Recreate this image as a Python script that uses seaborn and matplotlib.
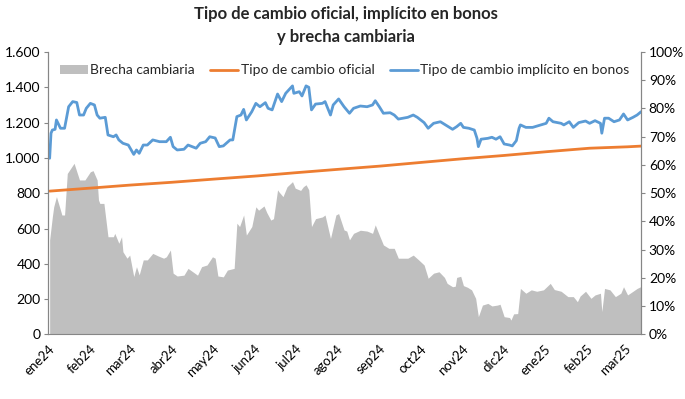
import pandas as pd
import matplotlib
matplotlib.use("Agg")
import matplotlib.pyplot as plt
from matplotlib.ticker import FuncFormatter, PercentFormatter
import seaborn as sns

# --- DATA ---
fechas_impl = [
    "2024-01-02", "2024-01-03", "2024-01-04", "2024-01-06", "2024-01-07", "2024-01-10", "2024-01-13",
    "2024-01-16", "2024-01-19", "2024-01-22", "2024-01-24", "2024-01-27", "2024-01-29", "2024-02-01",
    "2024-02-04", "2024-02-06", "2024-02-08", "2024-02-12", "2024-02-14", "2024-02-18", "2024-02-20",
    "2024-02-22", "2024-02-25", "2024-02-29", "2024-03-04", "2024-03-06", "2024-03-08", "2024-03-11",
    "2024-03-14", "2024-03-18", "2024-03-23", "2024-03-28", "2024-03-31", "2024-04-02", "2024-04-05",
    "2024-04-10", "2024-04-13", "2024-04-19", "2024-04-22", "2024-04-26", "2024-04-29", "2024-05-03",
    "2024-05-06", "2024-05-09", "2024-05-14", "2024-05-16", "2024-05-19", "2024-05-22", "2024-05-24",
    "2024-05-26", "2024-05-30", "2024-06-02", "2024-06-05", "2024-06-09", "2024-06-11", "2024-06-14",
    "2024-06-18", "2024-06-21", "2024-06-24", "2024-06-29", "2024-06-30", "2024-07-04", "2024-07-06",
    "2024-07-09", "2024-07-11", "2024-07-13", "2024-07-16", "2024-07-21", "2024-07-23", "2024-07-27",
    "2024-07-29", "2024-08-02", "2024-08-06", "2024-08-10", "2024-08-13", "2024-08-18", "2024-08-23",
    "2024-08-27", "2024-08-29", "2024-09-01", "2024-09-04", "2024-09-09", "2024-09-12", "2024-09-15",
    "2024-09-22", "2024-09-26", "2024-09-29", "2024-10-04", "2024-10-07", "2024-10-11", "2024-10-16",
    "2024-10-21", "2024-10-25", "2024-10-28", "2024-10-31", "2024-11-02", "2024-11-06", "2024-11-10",
    "2024-11-12", "2024-11-13", "2024-11-15", "2024-11-20", "2024-11-23", "2024-11-26", "2024-11-29",
    "2024-12-02", "2024-12-06", "2024-12-08", "2024-12-11", "2024-12-13", "2024-12-14", "2024-12-18",
    "2024-12-23", "2024-12-29", "2025-01-02", "2025-01-04", "2025-01-07", "2025-01-13", "2025-01-15",
    "2025-01-19", "2025-01-22", "2025-01-26", "2025-01-31", "2025-02-03", "2025-02-07", "2025-02-11",
    "2025-02-12", "2025-02-14", "2025-02-17", "2025-02-21", "2025-02-25", "2025-02-28", "2025-03-03",
    "2025-03-07", "2025-03-10", "2025-03-13",
]
tc_implicito = [
    998, 1140, 1158, 1162, 1215, 1168, 1168,
    1290, 1319, 1314, 1243, 1243, 1281, 1309,
    1300, 1243, 1225, 1230, 1130, 1120, 1130,
    1102, 1083, 1073, 1020, 1045, 1026, 1073,
    1073, 1102, 1092, 1092, 1117, 1064, 1045,
    1049, 1073, 1055, 1083, 1092, 1120, 1113,
    1064, 1068, 1102, 1102, 1234, 1243, 1275,
    1215, 1262, 1309, 1290, 1313, 1281, 1272,
    1362, 1319, 1366, 1408, 1366, 1375, 1351,
    1408, 1400, 1272, 1305, 1309, 1319, 1243,
    1300, 1334, 1290, 1253, 1281, 1294, 1290,
    1300, 1324, 1290, 1253, 1256, 1243, 1220,
    1230, 1243, 1230, 1200, 1168, 1196, 1205,
    1181, 1162, 1177, 1196, 1173, 1168, 1158,
    1111, 1064, 1106, 1111, 1117, 1106, 1120,
    1079, 1073, 1068, 1098, 1168, 1187, 1173,
    1173, 1187, 1196, 1225, 1205, 1196, 1187,
    1205, 1173, 1200, 1209, 1196, 1211, 1196,
    1140, 1225, 1225, 1205, 1215, 1249, 1215,
    1230, 1243, 1262,
]

fechas_oficial = [
    "2024-01-02", "2024-02-01", "2024-03-01", "2024-04-01", "2024-05-02", "2024-06-03",
    "2024-07-01", "2024-08-01", "2024-09-02", "2024-10-01", "2024-11-01", "2024-12-02",
    "2025-01-02", "2025-02-03", "2025-03-03", "2025-03-13",
]
tc_oficial = [812, 829, 846, 862, 880, 898, 916, 935, 954, 974, 995, 1014, 1035, 1055, 1063, 1067]

fechas_brecha = [
    "2024-01-02", "2024-01-04", "2024-01-05", "2024-01-07", "2024-01-10", "2024-01-11", "2024-01-13",
    "2024-01-15", "2024-01-20", "2024-01-24", "2024-01-28", "2024-02-01", "2024-02-03", "2024-02-06",
    "2024-02-07", "2024-02-08", "2024-02-11", "2024-02-14", "2024-02-18", "2024-02-19", "2024-02-22",
    "2024-02-24", "2024-02-25", "2024-02-28", "2024-03-01", "2024-03-04", "2024-03-06", "2024-03-08",
    "2024-03-11", "2024-03-14", "2024-03-18", "2024-03-22", "2024-03-26", "2024-03-28", "2024-03-31",
    "2024-04-02", "2024-04-05", "2024-04-10", "2024-04-13", "2024-04-20", "2024-04-23", "2024-04-27",
    "2024-05-01", "2024-05-03", "2024-05-05", "2024-05-09", "2024-05-12", "2024-05-17", "2024-05-19",
    "2024-05-21", "2024-05-24", "2024-05-26", "2024-05-30", "2024-06-02", "2024-06-04", "2024-06-08",
    "2024-06-10", "2024-06-13", "2024-06-15", "2024-06-18", "2024-06-19", "2024-06-22", "2024-06-25",
    "2024-06-29", "2024-07-01", "2024-07-05", "2024-07-07", "2024-07-09", "2024-07-11", "2024-07-13",
    "2024-07-16", "2024-07-21", "2024-07-23", "2024-07-27", "2024-07-31", "2024-08-02", "2024-08-06",
    "2024-08-08", "2024-08-10", "2024-08-13", "2024-08-18", "2024-08-23", "2024-08-27", "2024-08-29",
    "2024-09-01", "2024-09-04", "2024-09-08", "2024-09-12", "2024-09-15", "2024-09-22", "2024-09-26",
    "2024-09-30", "2024-10-04", "2024-10-07", "2024-10-11", "2024-10-15", "2024-10-19", "2024-10-21",
    "2024-10-25", "2024-10-27", "2024-10-28", "2024-10-31", "2024-11-02", "2024-11-05", "2024-11-08",
    "2024-11-11", "2024-11-13", "2024-11-16", "2024-11-20", "2024-11-23", "2024-11-27", "2024-11-29",
    "2024-12-02", "2024-12-06", "2024-12-07", "2024-12-09", "2024-12-12", "2024-12-14", "2024-12-18",
    "2024-12-22", "2024-12-26", "2024-12-31", "2025-01-05", "2025-01-08", "2025-01-13", "2025-01-18",
    "2025-01-22", "2025-01-25", "2025-01-27", "2025-01-31", "2025-02-04", "2025-02-07", "2025-02-11",
    "2025-02-12", "2025-02-14", "2025-02-18", "2025-02-22", "2025-02-26", "2025-02-28", "2025-03-03",
    "2025-03-07", "2025-03-10", "2025-03-13",
]
brecha = [
    33.5, 41.7, 45.2, 48.8, 44.0, 42.3, 42.3,
    57.0, 60.6, 54.7, 54.7, 57.6, 58.0, 54.7,
    47.6, 46.4, 46.4, 34.6, 34.6, 35.8, 32.3,
    34.6, 29.3, 27.0, 28.1, 20.5, 24.0, 21.1,
    26.4, 26.4, 28.7, 27.8, 27.0, 27.5, 29.9,
    21.7, 20.7, 21.0, 23.4, 21.0, 24.0, 24.6,
    27.5, 27.0, 20.7, 20.4, 22.8, 23.4, 39.4,
    38.2, 42.3, 35.2, 38.2, 45.2, 44.0, 45.5,
    43.2, 40.5, 41.0, 51.2, 50.5, 48.8, 52.3,
    54.1, 51.8, 51.0, 52.3, 53.0, 51.2, 38.2,
    41.0, 41.6, 42.3, 34.0, 42.3, 42.8, 37.0,
    36.6, 33.5, 35.8, 36.9, 36.6, 35.8, 38.8,
    35.2, 31.7, 30.5, 30.5, 27.0, 27.0, 28.1,
    26.4, 24.6, 19.9, 21.7, 22.2, 20.2, 18.1,
    16.9, 17.1, 20.2, 20.6, 17.3, 16.7, 15.8,
    12.8, 6.3, 10.4, 11.0, 10.1, 10.4, 10.7,
    6.3, 6.0, 5.1, 7.3, 7.4, 16.3, 14.6,
    15.8, 15.3, 15.8, 18.1, 15.9, 15.3, 13.4,
    13.4, 11.6, 13.6, 15.3, 12.8, 14.0, 14.6,
    8.1, 16.3, 15.8, 13.4, 14.6, 16.9, 14.0,
    15.3, 16.3, 17.0,
]

meses = ["ene24", "feb24", "mar24", "abr24", "may24", "jun24", "jul24", "ago24",
         "sep24", "oct24", "nov24", "dic24", "ene25", "feb25", "mar25"]

# --- COLORS ---
GRIS = "#BFBFBF"
NARANJA = "#ED7D31"
AZUL = "#5B9BD5"
EJE = "#868686"


def plot():
    sns.set_style("white")
    plt.rcParams["font.family"] = ["Lato", "DejaVu Sans"]

    impl = pd.DataFrame({"fecha": pd.to_datetime(fechas_impl), "valor": tc_implicito})
    ofi = pd.DataFrame({"fecha": pd.to_datetime(fechas_oficial), "valor": tc_oficial})
    gap = pd.DataFrame({"fecha": pd.to_datetime(fechas_brecha), "valor": [b / 100 for b in brecha]})

    fig = plt.figure(figsize=(6.85, 3.99), dpi=100)
    ax = fig.add_axes([0.0705, 0.1617, 0.8655, 0.708])   # area (right scale)
    ax2 = ax.twinx()                                      # lines (left scale)

    # area: brecha cambiaria
    area = ax.fill_between(gap["fecha"], 0, gap["valor"], color=GRIS, linewidth=0,
                           label="Brecha cambiaria")

    # lines
    sns.lineplot(data=ofi, x="fecha", y="valor", ax=ax2, color=NARANJA, linewidth=2.0,
                 label="Tipo de cambio oficial")
    sns.lineplot(data=impl, x="fecha", y="valor", ax=ax2, color=AZUL, linewidth=2.0,
                 label="Tipo de cambio implícito en bonos")

    ax.set_xlim(pd.Timestamp("2024-01-01"), pd.Timestamp("2025-03-13"))
    ax.set_ylim(0, 1)
    ax2.set_ylim(0, 1600)

    # swap sides: lines axis on the left, percent on the right
    ax.yaxis.tick_right()
    ax2.yaxis.tick_left()

    ax.yaxis.set_major_locator(plt.MultipleLocator(0.1))
    ax.yaxis.set_major_formatter(PercentFormatter(1.0, decimals=0))
    ax2.yaxis.set_major_locator(plt.MultipleLocator(200))
    ax2.yaxis.set_major_formatter(FuncFormatter(lambda v, p: f"{v:,.0f}".replace(",", ".")))

    ticks = pd.date_range("2024-01-01", periods=len(meses), freq="MS")
    ax.set_xticks(ticks)
    ax.set_xticklabels(meses, rotation=45, ha="right", rotation_mode="anchor")

    for a in (ax, ax2):
        a.set_xlabel("")
        a.set_ylabel("")
        a.spines["top"].set_visible(False)
        for s in ("left", "right", "bottom"):
            a.spines[s].set_color(EJE)
            a.spines[s].set_linewidth(0.8)
        a.tick_params(axis="both", colors=EJE, length=3, width=0.8, labelcolor="black",
                      labelsize=10, pad=2.5)
    ax.tick_params(axis="x", labelsize=9.5, pad=3)
    ax2.spines["bottom"].set_visible(False)

    ax2.get_legend().remove()
    handles = [area] + ax2.get_lines()[:2]
    ax2.legend(handles, [h.get_label() for h in handles], loc="upper center",
               bbox_to_anchor=(0.5, 1.0), ncol=3, frameon=False, fontsize=10,
               handlelength=2.0, handletextpad=0.2, columnspacing=1.1)

    fig.suptitle("Tipo de cambio oficial, implícito en bonos\ny brecha cambiaria",
                 x=0.505, y=0.985, fontsize=12, fontweight="bold", linespacing=1.55)

    fig.savefig("out.png", dpi=100)


if __name__ == "__main__":
    plot()
